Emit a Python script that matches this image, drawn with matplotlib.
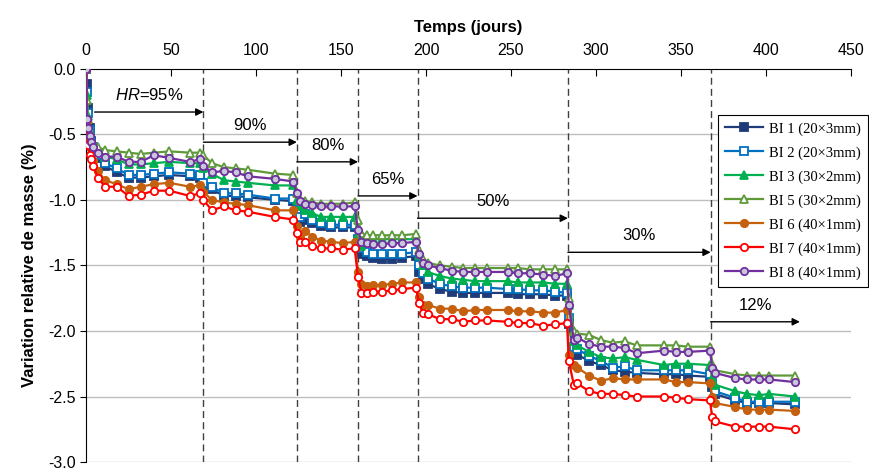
import matplotlib
matplotlib.use("Agg")
import matplotlib.pyplot as plt

plt.rcParams['font.family'] = ['Liberation Sans', 'DejaVu Sans']
plt.rcParams['mathtext.fontset'] = 'custom'
plt.rcParams['mathtext.rm'] = 'Liberation Sans'
plt.rcParams['mathtext.it'] = 'Liberation Sans:italic'

# temps de mesure (jours), par palier d'HR
days = ([0, 0.5, 1, 2, 3, 4, 7, 11, 18, 25, 32, 40, 49, 61, 67, 69] +
        [74, 81, 88, 95, 111, 122, 124, 126] +
        [129, 133, 138, 144, 151, 158, 160, 162] +
        [165, 169, 174, 180, 186, 194, 196, 198] +
        [201, 208, 215, 222, 229, 236, 248, 254, 261, 269, 276, 283] +
        [284, 287, 289, 296, 303, 310, 317, 324, 340, 347, 354, 367] +
        [368.5, 370, 382, 389, 396, 402, 417])

bi1 = ([0, -0.12, -0.30, -0.45, -0.55, -0.62, -0.68, -0.74, -0.79, -0.83, -0.83, -0.82, -0.81, -0.82, -0.83, -0.90] +
       [-0.92, -0.97, -0.97, -0.98, -1.00, -1.01, -1.12, -1.17] +
       [-1.15, -1.18, -1.20, -1.21, -1.21, -1.21, -1.33, -1.41] +
       [-1.43, -1.44, -1.45, -1.45, -1.44, -1.43, -1.55, -1.60] +
       [-1.64, -1.68, -1.70, -1.71, -1.71, -1.71, -1.71, -1.72, -1.72, -1.72, -1.73, -1.73] +
       [-1.95, -2.15, -2.18, -2.23, -2.26, -2.30, -2.31, -2.32, -2.33, -2.33, -2.34, -2.35] +
       [-2.43, -2.48, -2.53, -2.55, -2.55, -2.55, -2.56])
bi2 = ([0, -0.18, -0.34, -0.47, -0.55, -0.60, -0.66, -0.72, -0.76, -0.81, -0.81, -0.80, -0.79, -0.80, -0.81, -0.87] +
       [-0.90, -0.95, -0.95, -0.96, -0.99, -0.99, -1.08, -1.13] +
       [-1.11, -1.15, -1.18, -1.19, -1.19, -1.19, -1.30, -1.37] +
       [-1.40, -1.41, -1.41, -1.41, -1.41, -1.40, -1.50, -1.56] +
       [-1.60, -1.64, -1.66, -1.67, -1.67, -1.67, -1.68, -1.68, -1.69, -1.69, -1.70, -1.71] +
       [-1.90, -2.12, -2.14, -2.19, -2.23, -2.28, -2.27, -2.30, -2.30, -2.30, -2.30, -2.33] +
       [-2.40, -2.46, -2.51, -2.54, -2.54, -2.54, -2.54])
bi3 = ([0, -0.20, -0.36, -0.48, -0.55, -0.59, -0.63, -0.67, -0.69, -0.73, -0.73, -0.72, -0.71, -0.72, -0.72, -0.76] +
       [-0.80, -0.85, -0.86, -0.87, -0.89, -0.89, -1.00, -1.05] +
       [-1.08, -1.10, -1.13, -1.13, -1.13, -1.13, -1.27, -1.35] +
       [-1.30, -1.30, -1.30, -1.30, -1.30, -1.30, -1.42, -1.50] +
       [-1.55, -1.58, -1.60, -1.61, -1.62, -1.62, -1.62, -1.63, -1.63, -1.63, -1.64, -1.64] +
       [-1.80, -2.08, -2.11, -2.16, -2.20, -2.21, -2.20, -2.22, -2.26, -2.25, -2.25, -2.26] +
       [-2.36, -2.41, -2.46, -2.48, -2.49, -2.48, -2.50])
bi5 = ([0, -0.24, -0.38, -0.48, -0.54, -0.57, -0.60, -0.62, -0.63, -0.64, -0.65, -0.64, -0.63, -0.64, -0.64, -0.66] +
       [-0.72, -0.75, -0.76, -0.77, -0.80, -0.81, -0.95, -1.00] +
       [-1.01, -1.02, -1.03, -1.03, -1.03, -1.02, -1.15, -1.25] +
       [-1.27, -1.27, -1.27, -1.27, -1.27, -1.26, -1.38, -1.45] +
       [-1.48, -1.50, -1.51, -1.52, -1.52, -1.52, -1.52, -1.52, -1.53, -1.53, -1.53, -1.53] +
       [-1.75, -2.00, -2.02, -2.03, -2.07, -2.09, -2.08, -2.11, -2.11, -2.11, -2.12, -2.12] +
       [-2.25, -2.30, -2.33, -2.34, -2.34, -2.34, -2.34])
bi6 = ([0, -0.40, -0.52, -0.60, -0.65, -0.70, -0.78, -0.85, -0.88, -0.92, -0.90, -0.88, -0.87, -0.90, -0.89, -0.94] +
       [-1.00, -1.02, -1.03, -1.04, -1.08, -1.08, -1.20, -1.28] +
       [-1.24, -1.28, -1.31, -1.32, -1.33, -1.32, -1.55, -1.64] +
       [-1.66, -1.65, -1.65, -1.64, -1.63, -1.63, -1.74, -1.80] +
       [-1.80, -1.83, -1.83, -1.85, -1.84, -1.84, -1.84, -1.85, -1.85, -1.86, -1.86, -1.84] +
       [-2.18, -2.26, -2.28, -2.34, -2.38, -2.36, -2.37, -2.37, -2.37, -2.39, -2.39, -2.40] +
       [-2.50, -2.55, -2.58, -2.60, -2.60, -2.60, -2.61])
bi7 = ([0, -0.45, -0.58, -0.66, -0.69, -0.74, -0.83, -0.90, -0.90, -0.97, -0.96, -0.93, -0.93, -0.97, -0.95, -1.00] +
       [-1.08, -1.05, -1.08, -1.09, -1.13, -1.15, -1.25, -1.32] +
       [-1.32, -1.35, -1.37, -1.37, -1.38, -1.37, -1.59, -1.71] +
       [-1.71, -1.70, -1.70, -1.69, -1.68, -1.67, -1.79, -1.86] +
       [-1.87, -1.91, -1.91, -1.93, -1.92, -1.92, -1.93, -1.94, -1.94, -1.96, -1.95, -1.94] +
       [-2.23, -2.41, -2.40, -2.46, -2.48, -2.48, -2.49, -2.50, -2.50, -2.51, -2.52, -2.53] +
       [-2.66, -2.69, -2.73, -2.73, -2.73, -2.73, -2.75])
bi8 = ([0, -0.38, -0.45, -0.51, -0.56, -0.60, -0.64, -0.67, -0.67, -0.71, -0.71, -0.66, -0.68, -0.71, -0.69, -0.74] +
       [-0.79, -0.78, -0.79, -0.82, -0.84, -0.86, -0.95, -1.01] +
       [-1.03, -1.04, -1.05, -1.05, -1.05, -1.05, -1.23, -1.32] +
       [-1.33, -1.34, -1.34, -1.33, -1.33, -1.32, -1.41, -1.48] +
       [-1.50, -1.52, -1.54, -1.55, -1.55, -1.55, -1.55, -1.56, -1.56, -1.57, -1.58, -1.56] +
       [-1.80, -2.07, -2.05, -2.10, -2.12, -2.12, -2.13, -2.17, -2.15, -2.16, -2.16, -2.15] +
       [-2.28, -2.32, -2.36, -2.37, -2.37, -2.37, -2.39])

labels = ['BI 1 (20\u00d73mm)', 'BI 2 (20\u00d73mm)', 'BI 3 (30\u00d72mm)', 'BI 5 (30\u00d72mm)',
          'BI 6 (40\u00d71mm)', 'BI 7 (40\u00d71mm)', 'BI 8 (40\u00d71mm)']

# changements d'HR (jours) et paliers
changes = [69, 124, 160, 195, 283.5, 367.5]
hr_labels = ['$HR$=95%', '90%', '80%', '65%', '50%', '30%', '12%']
arrow_start = [5, 69, 124, 160, 195, 283.5, 367.5]
arrow_end = [69, 124, 160, 195, 283.5, 367.5, 420]
arrow_y = [-0.33, -0.56, -0.71, -0.97, -1.14, -1.40, -1.93]

styles = [
    dict(color='#1F3C78', marker='s', mfc='#1F3C78'),
    dict(color='#0070C0', marker='s', mfc='white'),
    dict(color='#00B050', marker='^', mfc='#00B050'),
    dict(color='#5E9A3A', marker='^', mfc='white'),
    dict(color='#C5600F', marker='o', mfc='#C5600F'),
    dict(color='#FF0000', marker='o', mfc='white'),
    dict(color='#7030A0', marker='o', mfc='#C8C8D8'),
]

fig = plt.figure(figsize=(8.7, 4.71), dpi=100)
ax = fig.add_axes([0.099, 0.019, 0.879, 0.835])

for y in [-0.5, -1.0, -1.5, -2.0, -2.5, -3.0]:
    ax.axhline(y, color='#BFBFBF', lw=1, zorder=0)

for xc in changes:
    ax.axvline(xc, color='#404040', lw=1, ls=(0, (5, 3)), zorder=1)

series = [bi1, bi2, bi3, bi5, bi6, bi7, bi8]
for vals, lab, st in zip(series, labels, styles):
    ax.plot(days, vals, lw=1.6, ms=5.3, mew=1.3, label=lab, zorder=3, **st)

for lab, x0, x1, ya in zip(hr_labels, arrow_start, arrow_end, arrow_y):
    ax.annotate('', xy=(x1, ya), xytext=(x0, ya),
                arrowprops=dict(arrowstyle='-|>', color='black', lw=1,
                                mutation_scale=11, shrinkA=0, shrinkB=0), zorder=4)
    ax.text((x0 + x1) / 2, ya + 0.07, lab, ha='center', va='bottom',
            fontsize=12, zorder=4)

ax.set_xlim(0, 450)
ax.set_ylim(-3.0, 0.0)
ax.set_xticks(range(0, 451, 50))
ax.set_yticks([0.0, -0.5, -1.0, -1.5, -2.0, -2.5, -3.0])
ax.set_yticklabels(['0.0', '-0.5', '-1.0', '-1.5', '-2.0', '-2.5', '-3.0'])
ax.xaxis.tick_top()
ax.xaxis.set_label_position('top')
ax.tick_params(axis='x', direction='in', length=5, labelsize=11.5, pad=8)
ax.tick_params(axis='y', direction='out', length=4, labelsize=11.5)
ax.set_xlabel('Temps (jours)', fontsize=12, fontweight='bold', labelpad=8)
ax.set_ylabel('Variation relative de masse (%)', fontsize=12, fontweight='bold', labelpad=8)

ax.spines['right'].set_visible(False)
ax.spines['bottom'].set_visible(False)
ax.spines['top'].set_color('black')
ax.spines['left'].set_color('black')

leg = ax.legend(loc='upper left', bbox_to_anchor=(0.825, 0.756), bbox_transform=fig.transFigure,
                prop={'family': 'Liberation Serif', 'size': 10.5}, frameon=True, fancybox=False,
                edgecolor='black', framealpha=1, labelspacing=0.72, handlelength=2.6,
                handletextpad=0.4, borderpad=0.5, borderaxespad=0)
leg.get_frame().set_linewidth(0.8)
leg.set_zorder(5)

fig.savefig('out.png', dpi=100)
